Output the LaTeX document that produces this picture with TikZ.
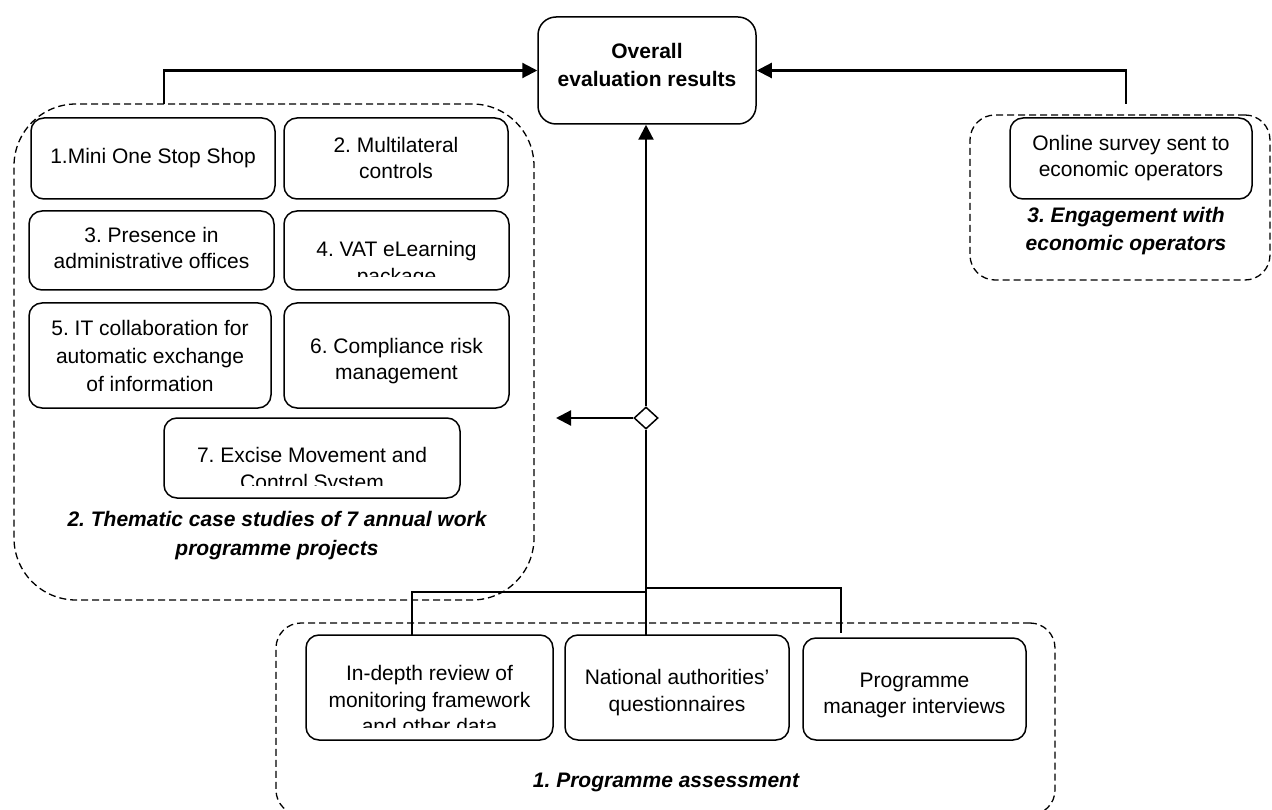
\documentclass[tikz,border=0pt]{standalone}
\usepackage{fontspec}
\setmainfont{Liberation Sans}
\usetikzlibrary{arrows.meta,shapes.geometric}
\frenchspacing
\newcommand\nfont{\fontsize{21}{26.5}\selectfont}
\newcommand\wfont{\fontsize{21}{28}\selectfont}
\newcommand\bfont{\fontsize{21}{28}\selectfont\bfseries}
\newcommand\bifont{\fontsize{21}{28.5}\selectfont\bfseries\itshape}
\begin{document}
\begin{tikzpicture}[x=1pt,y=-1pt,
  box/.style={draw, fill=white, rounded corners=13pt, line width=1.5pt, inner sep=0pt},
  grp/.style={draw, dash pattern=on 7pt off 4pt, line width=1.3pt, inner sep=0pt},
  txt/.style={inner sep=0pt, align=center, font=\nfont, execute at begin node=\strut, execute at end node=\strut},
  lbl/.style={inner sep=0pt, align=center, font=\bifont, execute at begin node=\strut, execute at end node=\strut},
  arr/.style={line width=2.2pt, -{Triangle[length=15pt,width=15pt]}},
  thickline/.style={line width=2.2pt},
  tree/.style={line width=1.4pt},
  dia/.style={diamond, draw, fill=white, line width=1.5pt, inner sep=0pt, minimum width=24pt, minimum height=22pt}
]
\path[use as bounding box] (0,0) rectangle (1272,810);
\clip (0,0) rectangle (1272,810);

% dashed groups
\node[grp, rounded corners=62pt, minimum width=520pt, minimum height=496pt] (g2) at (274,352) {};
\node[grp, rounded corners=25pt, minimum width=300pt, minimum height=165pt] (g3) at (1120,197.5) {};
\node[grp, rounded corners=25pt, minimum width=779pt, minimum height=192pt] (g1) at (665.5,719) {};

% overall box
\node[box, rounded corners=18pt, minimum width=218pt, minimum height=107pt] (ov) at (647,70.5) {};
\node[inner sep=0pt, align=center, font=\bfont, execute at begin node=\strut, execute at end node=\strut] (tov) at (647,69) {Overall\\evaluation results};

% left group boxes
\node[box, minimum width=244pt, minimum height=81pt] (b1) at (153,158.5) {};
\node[box, minimum width=224pt, minimum height=81pt] (b2) at (396,158.5) {};
\node[box, minimum width=245pt, minimum height=79pt] (b3) at (151.5,250.5) {};
\node[box, minimum width=225pt, minimum height=79pt] (b4) at (396.5,250.5) {};
\node[box, minimum width=242pt, minimum height=105pt] (b5) at (150,355.5) {};
\node[box, minimum width=225pt, minimum height=105pt] (b6) at (396.5,355.5) {};
\node[box, minimum width=296pt, minimum height=80pt] (b7) at (312,458) {};

\node[txt] (t1) at (153,158) {1.Mini One Stop Shop};
\node[txt] (t2) at (396,162) {2. Multilateral\\controls};
\node[txt] (t3) at (151.5,252) {3. Presence in\\administrative offices};
\begin{scope}
  \clip (b4.north west) rectangle (b4.east |- 0,277);
  \node[txt] (t4) at (396.5,266.5) {4. VAT eLearning\\package};
\end{scope}
\begin{scope}
  \clip (b5.north west) rectangle (b5.east |- 0,391);
  \node[txt, font=\wfont] (t5) at (150,360) {5. IT collaboration for\\automatic exchange\\of information};
\end{scope}
\node[txt] (t6) at (396.5,363) {6. Compliance risk\\management};
\begin{scope}
  \clip (b7.north west) rectangle (b7.east |- 0,485);
  \node[txt] (t7) at (312,472.25) {7. Excise Movement and\\Control System};
\end{scope}
\node[lbl] (l2) at (277,537.5) {2. Thematic case studies of 7 annual work\\programme projects};

% right group
\node[box, minimum width=242pt, minimum height=81pt] (bO) at (1131,158.5) {};
\node[txt] (tO) at (1131,160) {Online survey sent to\\economic operators};
\node[lbl] (l3) at (1126,233) {3. Engagement with\\economic operators};

% bottom group
\node[box, minimum width=247pt, minimum height=105pt] (bA) at (429.5,687.5) {};
\node[box, minimum width=224pt, minimum height=105pt] (bB) at (677,687.5) {};
\node[box, minimum width=223pt, minimum height=102pt] (bC) at (914.5,689) {};
\begin{scope}
  \clip (bA.north west) rectangle (bA.east |- 0,727);
  \node[txt] (tA) at (429.5,703.5) {In-depth review of\\monitoring framework\\and other data};
\end{scope}
\node[txt] (tB) at (677,694.5) {National authorities'\\questionnaires};
\node[txt] (tC) at (914.5,697) {Programme\\manager interviews};
\node[lbl] (l1) at (666,782) {1. Programme assessment};

% connectors
\coordinate (c2) at (164,104);
\coordinate (c3) at (1126,104);
\draw[arr] (c2) |- (ov.west);
\draw[arr] (c3) |- (ov.east);

\node[dia] (d) at (646,418) {};
\coordinate (al) at (556,418);
\coordinate (jr) at (646,588);
\coordinate (jl) at (646,592);
\coordinate (aA) at (412,635);
\coordinate (aB) at (646,635);
\coordinate (aC) at (841,633);
\draw[arr] (d.north) -- (d.north |- ov.south);
\draw[arr] (d.west) -- (al);
\draw[thickline] (d.south) -- (jr);
\draw[tree] (jr) -- (aB);
\draw[tree] (jl) -| (aA);
\draw[tree] (jr) -| (aC);
\end{tikzpicture}
\end{document}
